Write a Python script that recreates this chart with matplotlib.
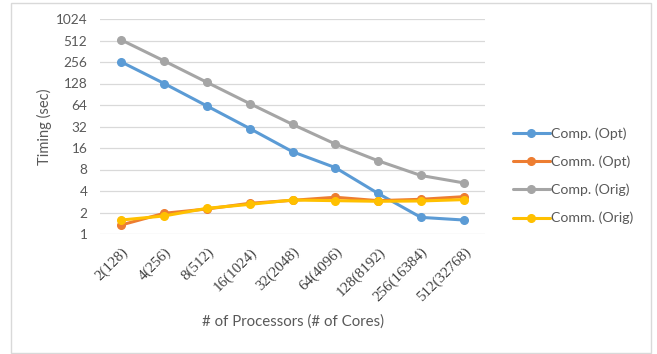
import matplotlib.pyplot as plt
from matplotlib.patches import Rectangle
from matplotlib.ticker import FixedLocator, NullLocator

procs = ["2(128)", "4(256)", "8(512)", "16(1024)", "32(2048)",
         "64(4096)", "128(8192)", "256(16384)", "512(32768)"]
comp_opt = [256, 128, 62, 30, 14.2, 8.5, 3.7, 1.71, 1.57]
comm_opt = [1.34, 1.95, 2.24, 2.69, 2.96, 3.27, 2.93, 3.06, 3.33]
comp_orig = [520, 265, 133, 67, 34.3, 18.2, 10.6, 6.6, 5.2]
comm_orig = [1.57, 1.79, 2.29, 2.60, 2.99, 2.93, 2.87, 2.90, 3.03]
yticks = [1, 2, 4, 8, 16, 32, 64, 128, 256, 512, 1024]

series = [
    ("Comp. (Opt)", comp_opt, "#5B9BD5"),
    ("Comm. (Opt)", comm_opt, "#ED7D31"),
    ("Comp. (Orig)", comp_orig, "#A5A5A5"),
    ("Comm. (Orig)", comm_orig, "#FFC000"),
]

W, H = 657, 354
fig = plt.figure(figsize=(W / 100, H / 100), dpi=100)
ax = fig.add_axes([100 / W, 1 - 234 / H, 385 / W, 215 / H])

x = range(len(procs))
for name, vals, col in series:
    ax.plot(x, vals, color=col, lw=2.2, marker="o", ms=5.5, label=name,
            solid_capstyle="round")

ax.set_yscale("log", base=2)
ax.set_ylim(1, 1024)
ax.set_xlim(-0.5, len(procs) - 0.5)
ax.yaxis.set_major_locator(FixedLocator(yticks))
ax.yaxis.set_minor_locator(NullLocator())
ax.set_yticks(yticks)
ax.set_yticklabels([str(v) for v in yticks], fontsize=9.8, color="#595959",
                   family="Lato")
ax.set_xticks(list(x))
ax.set_xticklabels(procs, rotation=45, ha="right", rotation_mode="anchor",
                   fontsize=10.8, color="#404040", family="Liberation Serif")
ax.tick_params(axis="y", length=0, pad=9)
ax.tick_params(axis="x", length=0, pad=8)
ax.grid(axis="y", color="#D9D9D9", lw=0.9)
ax.set_axisbelow(True)
for s in ax.spines.values():
    s.set_visible(False)

ax.set_ylabel("Timing (sec)", fontsize=10.5, color="#595959", family="Lato",
              labelpad=3)
fig.text(293 / W, 1 - 322 / H, "# of Processors (# of Cores)", ha="center",
         va="center", fontsize=10.8, color="#595959", family="Lato")

fig.legend(loc="center left", bbox_to_anchor=(500 / W, 1 - 176 / H),
           frameon=False, handlelength=2.6, handletextpad=0.1,
           labelspacing=1.1, labelcolor="#595959",
           prop={"family": "Lato", "size": 10.2})

fig.patches.append(Rectangle((11 / W, 1 / H), 640 / W, 350 / H,
                             transform=fig.transFigure, fill=False,
                             ec="#D9D9D9", lw=1))

fig.savefig("out.png", dpi=100)
